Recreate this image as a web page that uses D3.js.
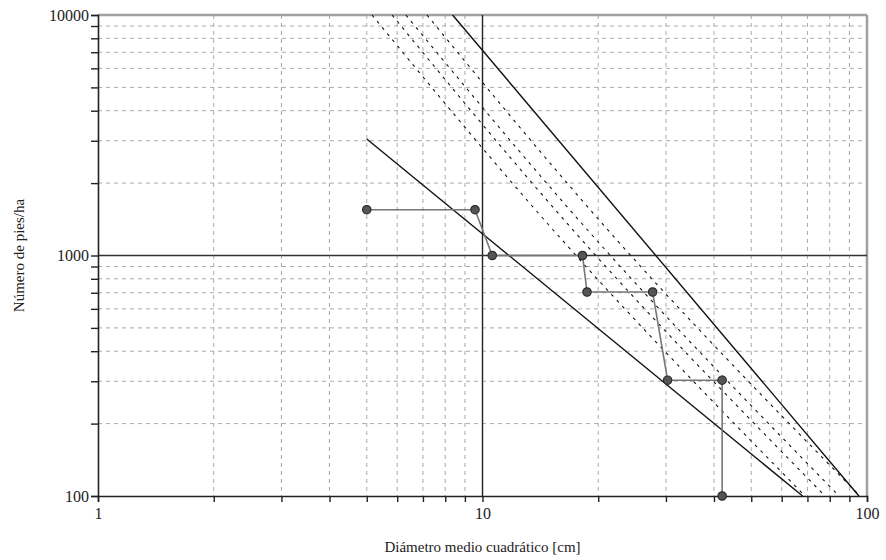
<!DOCTYPE html>
<html>
<head>
<meta charset="utf-8">
<script src="https://cdn.jsdelivr.net/npm/d3@7"></script>
<style>
  body { margin: 0; background: #fff; }
  text { font-family: "Liberation Serif", "Times New Roman", serif; fill: #222; }
</style>
</head>
<body>
<div id="chart"></div>
<script>
"use strict";

// observed stand trajectory (diametro medio, pies/ha)
const pathD = [5, 9.56, 10.6, 18.2, 18.7, 27.7, 30.3, 42, 42];
const pathN = [1550, 1550, 1000, 1000, 705, 705, 303, 303, 100];

// upper limit line and lower limit line (two ends each)
const upperD = [8.36, 95.3];
const upperN = [10000, 100];
const lowerD = [5, 68];
const lowerN = [3050, 100];

// dashed guide lines, read at N = 10000, 1000, 100
const guideN = [10000, 1000, 100];
const guide1 = [5.16, 17.5, 69.0];
const guide2 = [5.82, 19.7, 77.8];
const guide3 = [6.32, 21.5, 84.6];
const guide4 = [7.17, 24.3, 95.9];

const xTickLabels = [1, 10, 100];
const yTickLabels = [100, 1000, 10000];
const minorSteps = [2, 3, 4, 5, 6, 7, 8, 9];

// set the dimensions and margins of the graph
const margin = {top: 15, right: 19, bottom: 64, left: 98},
      width = 886 - margin.left - margin.right,
      height = 560 - margin.top - margin.bottom;

const svg = d3.select("#chart")
  .append("svg")
  .attr("width", width + margin.left + margin.right)
  .attr("height", height + margin.top + margin.bottom)
  .append("g")
  .attr("transform", "translate(" + margin.left + "," + margin.top + ")");

const x = d3.scaleLog().domain([1, 100]).range([0, width]);
const y = d3.scaleLog().domain([100, 10000]).range([height, 0]);

// minor positions for grid and ticks
const xMinor = [1, 10].flatMap(k => minorSteps.map(s => s * k));
const yMinor = [100, 1000].flatMap(k => minorSteps.map(s => s * k));

// grid
svg.append("g").selectAll("line")
  .data(xMinor)
  .join("line")
  .attr("x1", d => x(d)).attr("x2", d => x(d))
  .attr("y1", 0).attr("y2", height)
  .attr("stroke", "#aaa")
  .attr("stroke-dasharray", "4,4");

svg.append("g").selectAll("line")
  .data(yMinor)
  .join("line")
  .attr("y1", d => y(d)).attr("y2", d => y(d))
  .attr("x1", 0).attr("x2", width)
  .attr("stroke", "#aaa")
  .attr("stroke-dasharray", "4,4");

// top and right frame
svg.append("line")
  .attr("x1", 0).attr("x2", width).attr("y1", 0).attr("y2", 0)
  .attr("stroke", "#a0a0a0").attr("stroke-width", 2.5);
svg.append("line")
  .attr("x1", width).attr("x2", width).attr("y1", 0).attr("y2", height)
  .attr("stroke", "#a0a0a0").attr("stroke-width", 2.5);

// reference lines at D = 10 and N = 1000
svg.append("line")
  .attr("x1", x(10)).attr("x2", x(10)).attr("y1", 0).attr("y2", height)
  .attr("stroke", "#222").attr("stroke-width", 1.4);
svg.append("line")
  .attr("x1", 0).attr("x2", width).attr("y1", y(1000)).attr("y2", y(1000))
  .attr("stroke", "#333").attr("stroke-width", 1.4);

const line = d3.line()
  .x(d => x(d[0]))
  .y(d => y(d[1]));

// dashed guides
const guideLine = d3.line()
  .curve(d3.curveNatural)
  .x(d => x(d[0]))
  .y(d => y(d[1]));

[guide1, guide2, guide3, guide4].forEach(function(g) {
  svg.append("path")
    .datum(d3.zip(g, guideN))
    .attr("fill", "none")
    .attr("stroke", "#111")
    .attr("stroke-width", 1.1)
    .attr("stroke-dasharray", "3,5");
});
svg.selectAll("path").attr("d", guideLine);

// limit lines
svg.append("path")
  .datum(d3.zip(upperD, upperN))
  .attr("fill", "none").attr("stroke", "#111").attr("stroke-width", 1.4)
  .attr("d", line);
svg.append("path")
  .datum(d3.zip(lowerD, lowerN))
  .attr("fill", "none").attr("stroke", "#111").attr("stroke-width", 1.4)
  .attr("d", line);

// axes
const yAxis = svg.append("g")
  .call(d3.axisLeft(y)
    .tickValues(yTickLabels.concat(yMinor))
    .tickSize(7)
    .tickFormat(d => yTickLabels.includes(d) ? d : ""));
const xAxis = svg.append("g")
  .attr("transform", "translate(0," + height + ")")
  .call(d3.axisBottom(x)
    .tickValues(xTickLabels.concat(xMinor))
    .tickSize(6)
    .tickFormat(d => xTickLabels.includes(d) ? d : ""));

[yAxis, xAxis].forEach(function(a) {
  a.select(".domain").attr("stroke", "#222").attr("stroke-width", 1.6);
  a.selectAll(".tick line").attr("stroke", "#222").attr("stroke-width", 1.4);
  a.selectAll(".tick text")
    .style("font-family", "'Liberation Serif', serif")
    .style("font-size", "16px")
    .attr("fill", "#222");
});
yAxis.selectAll(".tick text").attr("x", -9);
xAxis.selectAll(".tick text").attr("y", 12);

// stand trajectory
const pts = d3.zip(pathD, pathN);
svg.append("path")
  .datum(pts)
  .attr("fill", "none")
  .attr("stroke", "#777")
  .attr("stroke-width", 1.6)
  .attr("d", line);

svg.append("g").selectAll("circle")
  .data(pts)
  .join("circle")
  .attr("cx", d => x(d[0]))
  .attr("cy", d => y(d[1]))
  .attr("r", 4.2)
  .attr("fill", "#555")
  .attr("stroke", "#2a2a2a")
  .attr("stroke-width", 1.2);

// axis labels
svg.append("text")
  .attr("text-anchor", "middle")
  .attr("x", width / 2)
  .attr("y", height + 56)
  .style("font-size", "15px")
  .text("Diámetro medio cuadrático [cm]");

svg.append("text")
  .attr("text-anchor", "middle")
  .attr("transform", "rotate(-90)")
  .attr("x", -height / 2)
  .attr("y", -margin.left + 24)
  .style("font-size", "15px")
  .text("Número de pies/ha");
</script>
</body>
</html>
